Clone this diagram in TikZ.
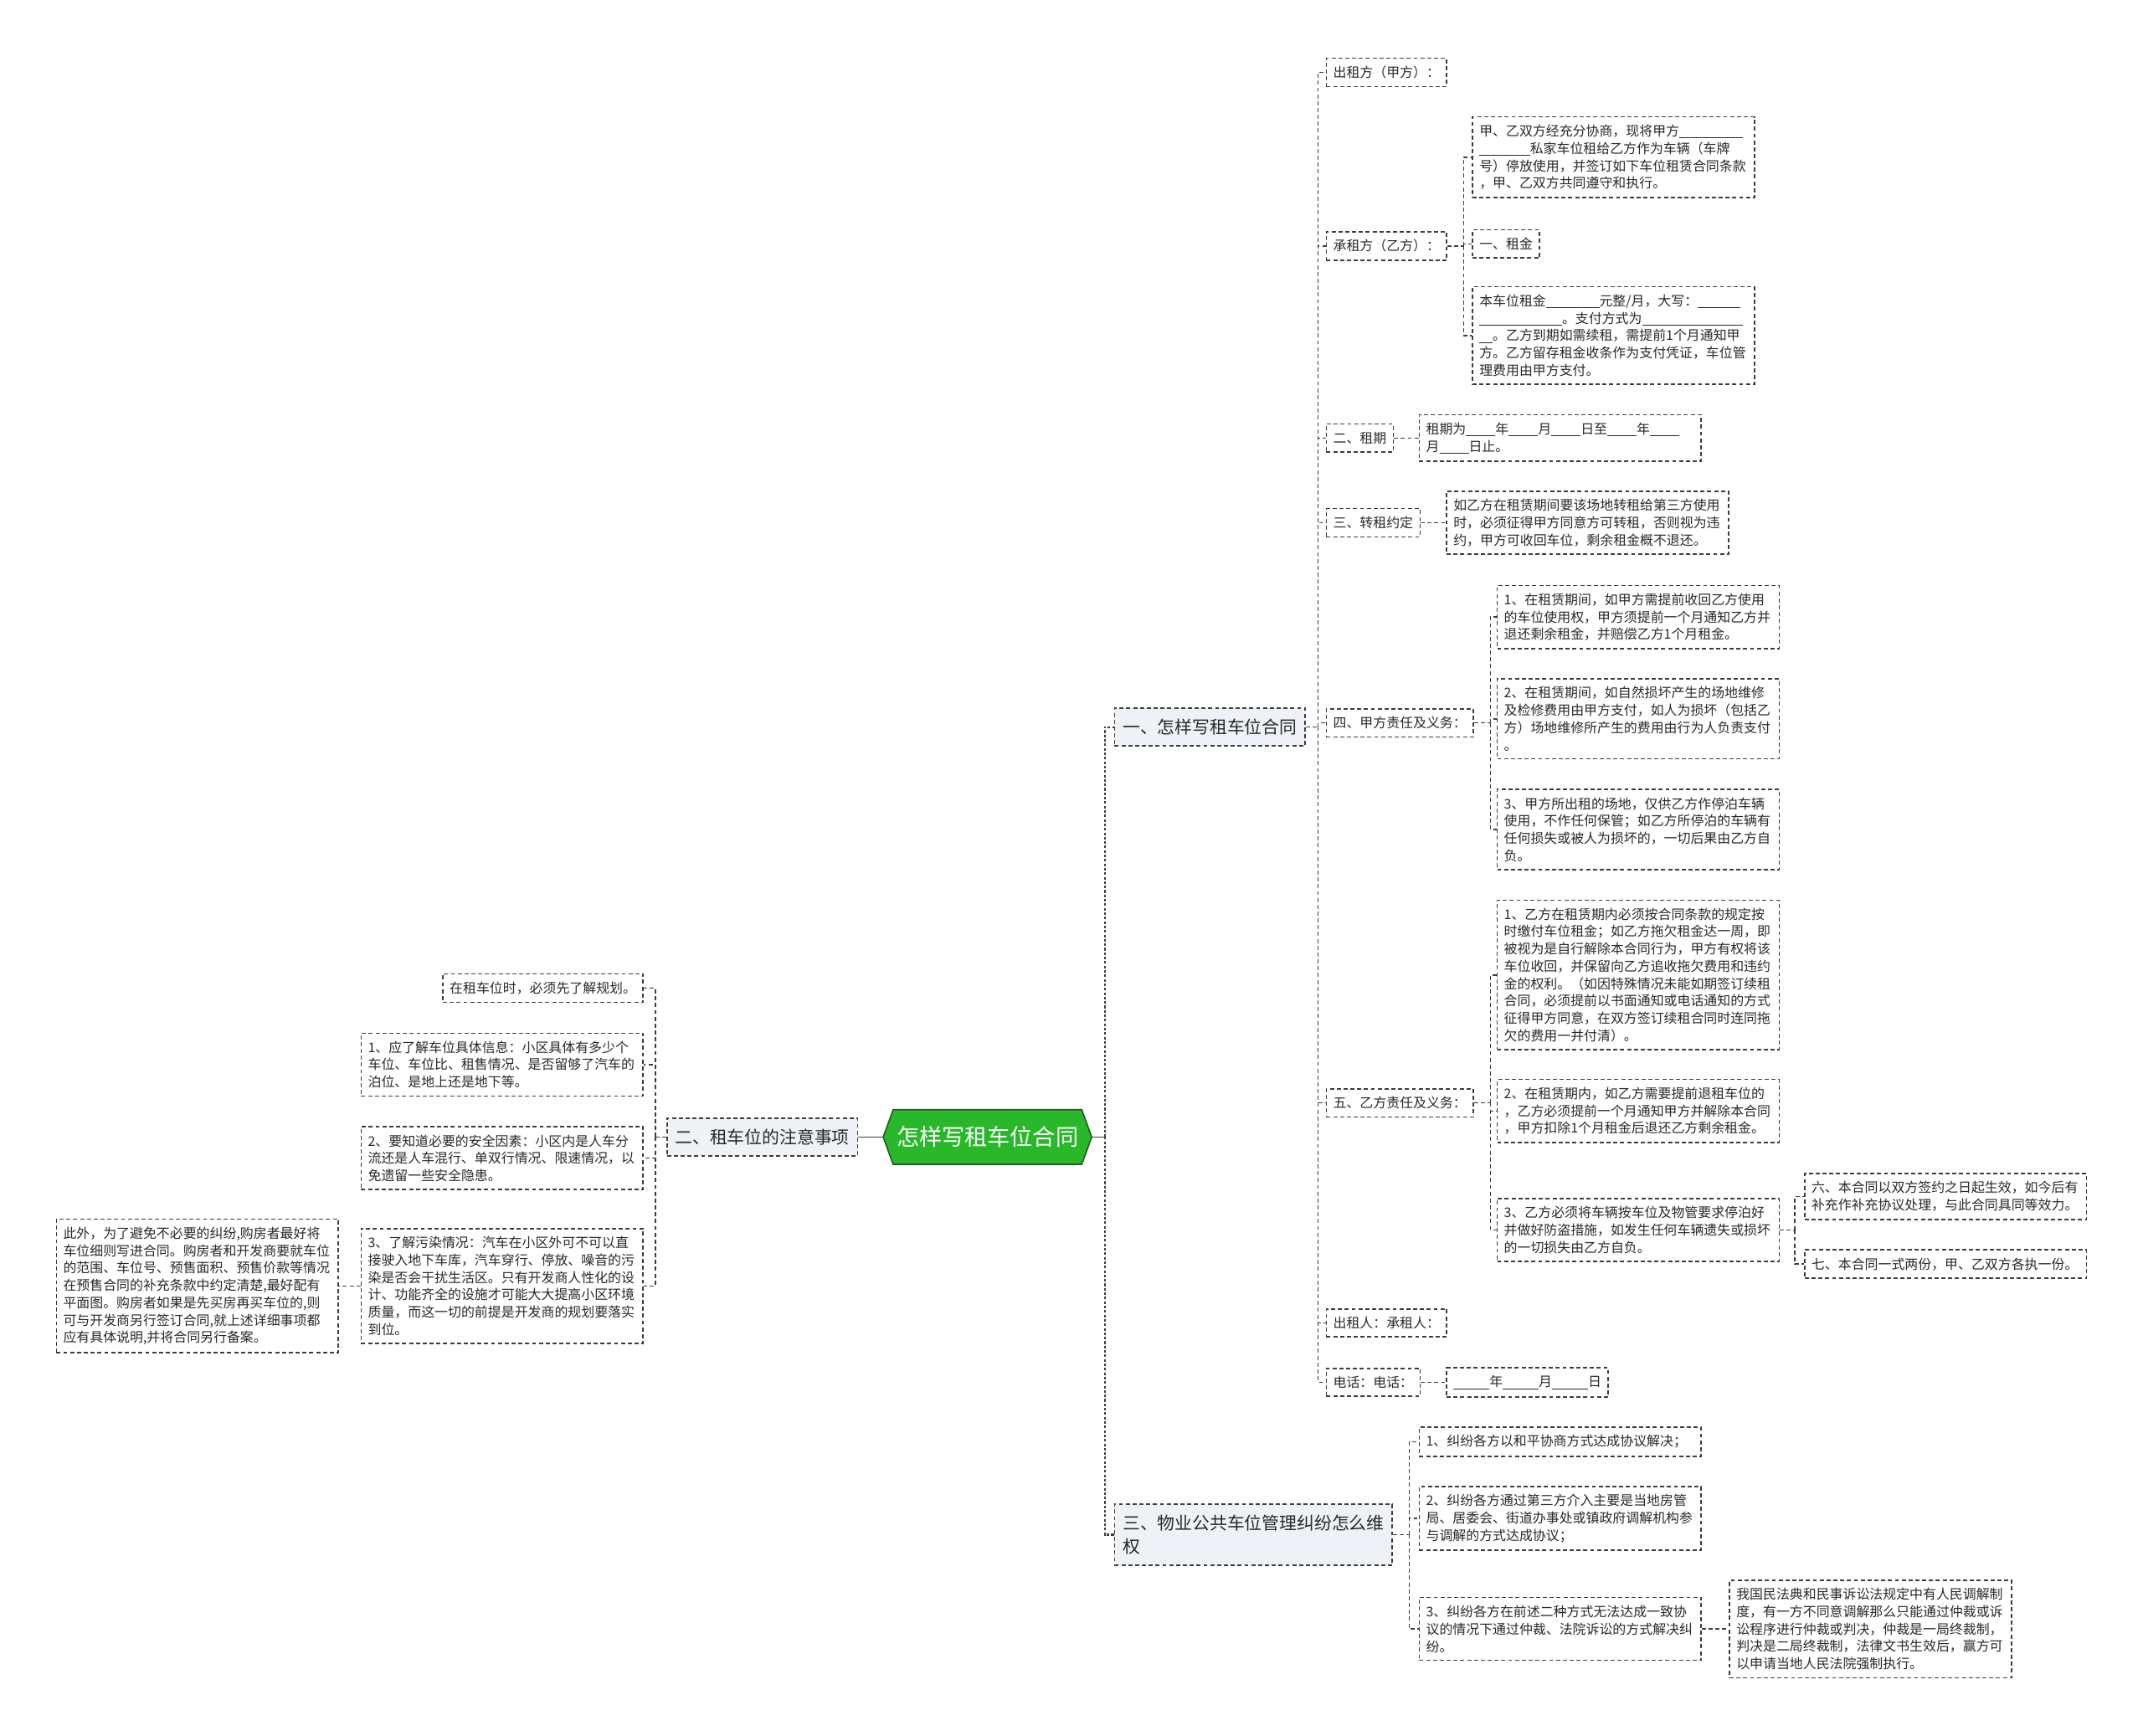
\documentclass[tikz,border=0pt]{standalone}
\usepackage{fontspec}
\setmainfont{Noto Sans CJK SC}
\definecolor{mmgreen}{RGB}{40,184,42}
\definecolor{mmgreendark}{RGB}{34,92,36}
\definecolor{mmgray}{RGB}{238,241,245}
\definecolor{mmline}{RGB}{60,60,60}
\definecolor{mmtext}{RGB}{40,40,40}
\usetikzlibrary{shapes.symbols,positioning}
\newcommand{\fillin}[1]{\rule[-1.3pt]{#1}{0.45pt}}

\begin{document}
\begin{tikzpicture}[x=0.8pt, y=-0.8pt,
    rootbox/.style={signal, signal to=east and west, signal pointer angle=140,
                    draw=mmgreendark, fill=mmgreen, line width=0.8pt, text=white,
                    minimum width=119pt, minimum height=32pt, inner xsep=2pt,
                    font=\fontsize{13.3}{16}\selectfont},
    topicbox/.style={rectangle, draw=mmline, fill=mmgray, line width=0.8pt,
                     dash pattern=on 2.4pt off 1.6pt, align=left, text=mmtext,
                     inner xsep=4.8pt, inner ysep=6.3pt,
                     font=\fontsize{10.2}{13.6}\selectfont},
    itembox/.style={rectangle, draw=mmline, fill=white, line width=0.75pt,
                    dash pattern=on 2.4pt off 1.6pt, align=left, text=mmtext,
                    inner xsep=4pt, inner ysep=4.6pt,
                    font=\fontsize{7.8}{10.16}\selectfont},
    wide/.style={itembox, text width=157pt},
    trunk/.style={draw=mmline, line width=0.8pt},
    spine/.style={draw=mmline, line width=1pt, dash pattern=on 1.5pt off 1.1pt},
    link/.style={draw=mmline, line width=0.75pt, dash pattern=on 2.4pt off 1.6pt}
  ]
  \useasboundingbox[fill=white] (0,0) rectangle (1568,1270);

  % centre and main topics
  \node[rootbox] (root) at (722.5,832) {怎样写租车位合同};
  \node[topicbox, anchor=west] (n1) at (815,532) {一、怎样写租车位合同};
  \node[topicbox, anchor=west] (n3) at (815,1123) {三、物业公共车位管理纠纷怎么维\\权};
  \node[topicbox, anchor=east] (n2) at (628,832) {二、租车位的注意事项};

  % contract items
  \node[itembox, anchor=west] (a1) at (970,53) {出租方（甲方）：};
  \node[itembox, anchor=west] (a2) at (970,180) {承租方（乙方）：};
  \node[itembox, anchor=west] (a3) at (970,320.5) {二、租期};
  \node[itembox, anchor=west] (a4) at (970,382.5) {三、转租约定};
  \node[itembox, anchor=west] (a5) at (970,529) {四、甲方责任及义务：};
  \node[itembox, anchor=west] (a6) at (970,807) {五、乙方责任及义务：};
  \node[itembox, anchor=west] (a7) at (970,968) {出租人：承租人：};
  \node[itembox, anchor=west] (a8) at (970,1011.5) {电话：电话：};

  \node[wide, anchor=west] (b1) at (1077,115) {甲、乙双方经充分协商，现将甲方\fillin{4.8em}\\
    \fillin{3.8em}私家车位租给乙方作为车辆（车牌\\
    号）停放使用，并签订如下车位租赁合同条款\\
    ，甲、乙双方共同遵守和执行。};
  \node[itembox, anchor=west] (b2) at (1077,178.5) {一、租金};
  \node[wide, anchor=west] (b3) at (1077,245.5) {本车位租金\fillin{4em}元整/月，大写：\fillin{3.2em}\\
    \fillin{6.2em}。支付方式为\fillin{7.6em}\\
    \fillin{1em}。乙方到期如需续租，需提前1个月通知甲\\
    方。乙方留存租金收条作为支付凭证，车位管\\
    理费用由甲方支付。};
  \node[wide, anchor=west] (c1) at (1038,320.5) {租期为\fillin{2.2em}年\fillin{2.2em}月\fillin{2.2em}日至\fillin{2.2em}年\fillin{2.2em}\\
    月\fillin{2.2em}日止。};
  \node[wide, anchor=west] (c2) at (1058,382.5) {如乙方在租赁期间要该场地转租给第三方使用\\
    时，必须征得甲方同意方可转租，否则视为违\\
    约，甲方可收回车位，剩余租金概不退还。};

  \node[wide, anchor=west] (d1) at (1095,451.5) {1、在租赁期间，如甲方需提前收回乙方使用\\
    的车位使用权，甲方须提前一个月通知乙方并\\
    退还剩余租金，并赔偿乙方1个月租金。};
  \node[wide, anchor=west] (d2) at (1095,526) {2、在租赁期间，如自然损坏产生的场地维修\\
    及检修费用由甲方支付，如人为损坏（包括乙\\
    方）场地维修所产生的费用由行为人负责支付\\
    。};
  \node[wide, anchor=west] (d3) at (1095,607) {3、甲方所出租的场地，仅供乙方作停泊车辆\\
    使用，不作任何保管；如乙方所停泊的车辆有\\
    任何损失或被人为损坏的，一切后果由乙方自\\
    负。};

  \node[wide, anchor=west] (e1) at (1095,713.4) {1、乙方在租赁期内必须按合同条款的规定按\\
    时缴付车位租金；如乙方拖欠租金达一周，即\\
    被视为是自行解除本合同行为，甲方有权将该\\
    车位收回，并保留向乙方追收拖欠费用和违约\\
    金的权利。（如因特殊情况未能如期签订续租\\
    合同，必须提前以书面通知或电话通知的方式\\
    征得甲方同意，在双方签订续租合同时连同拖\\
    欠的费用一并付清）。};
  \node[wide, anchor=west] (e2) at (1095,813) {2、在租赁期内，如乙方需要提前退租车位的\\
    ，乙方必须提前一个月通知甲方并解除本合同\\
    ，甲方扣除1个月租金后退还乙方剩余租金。};
  \node[wide, anchor=west] (e3) at (1095,900) {3、乙方必须将车辆按车位及物管要求停泊好\\
    并做好防盗措施，如发生任何车辆遗失或损坏\\
    的一切损失由乙方自负。};
  \node[wide, anchor=west] (f1) at (1320,875.5) {六、本合同以双方签约之日起生效，如今后有\\
    补充作补充协议处理，与此合同具同等效力。};
  \node[wide, anchor=west] (f2) at (1320,925) {七、本合同一式两份，甲、乙双方各执一份。};
  \node[itembox, anchor=west] (g1) at (1058,1011.5) {\fillin{2.7em}年\fillin{2.7em}月\fillin{2.7em}日};

  % disputes
  \node[wide, anchor=west] (h1) at (1038,1055) {1、纠纷各方以和平协商方式达成协议解决；};
  \node[wide, anchor=west] (h2) at (1038,1111) {2、纠纷各方通过第三方介入主要是当地房管\\
    局、居委会、街道办事处或镇政府调解机构参\\
    与调解的方式达成协议；};
  \node[wide, anchor=west] (h3) at (1038,1192) {3、纠纷各方在前述二种方式无法达成一致协\\
    议的情况下通过仲裁、法院诉讼的方式解决纠\\
    纷。};
  \node[wide, anchor=west] (i1) at (1265,1192) {我国民法典和民事诉讼法规定中有人民调解制\\
    度，有一方不同意调解那么只能通过仲裁或诉\\
    讼程序进行仲裁或判决，仲裁是一局终裁制，\\
    判决是二局终裁制，法律文书生效后，赢方可\\
    以申请当地人民法院强制执行。};

  % notes (left side)
  \node[itembox, anchor=east] (j0) at (471,723) {在租车位时，必须先了解规划。};
  \node[wide, anchor=east] (j1) at (471,779) {1、应了解车位具体信息：小区具体有多少个\\
    车位、车位比、租售情况、是否留够了汽车的\\
    泊位、是地上还是地下等。};
  \node[wide, anchor=east] (j2) at (471,847.5) {2、要知道必要的安全因素：小区内是人车分\\
    流还是人车混行、单双行情况、限速情况，以\\
    免遗留一些安全隐患。};
  \node[wide, anchor=east] (j3) at (471,941) {3、了解污染情况：汽车在小区外可不可以直\\
    接驶入地下车库，汽车穿行、停放、噪音的污\\
    染是否会干扰生活区。只有开发商人性化的设\\
    计、功能齐全的设施才可能大大提高小区环境\\
    质量，而这一切的前提是开发商的规划要落实\\
    到位。};
  \node[wide, anchor=east] (k1) at (248,941) {此外，为了避免不必要的纠纷,购房者最好将\\
    车位细则写进合同。购房者和开发商要就车位\\
    的范围、车位号、预售面积、预售价款等情况\\
    在预售合同的补充条款中约定清楚,最好配有\\
    平面图。购房者如果是先买房再买车位的,则\\
    可与开发商另行签订合同,就上述详细事项都\\
    应有具体说明,并将合同另行备案。};

  % connectors
  \draw[trunk] (root.east) -- ++(9,0) coordinate (hub);
  \draw[spine] (hub) |- (n1.west);
  \draw[spine] (hub) |- (n3.west);
  \draw[trunk] (root.west) -- (n2.east);

  \draw[link] (n1.east) -- ++(9,0) coordinate (hub1);
  \foreach \k in {a1,a2,a3,a4,a5,a6,a7,a8}
    \draw[link] (hub1) |- (\k.west);
  \draw[link] (a2.east) -- ++(12,0) coordinate (hub2);
  \foreach \k in {b1,b2,b3}
    \draw[link] (hub2) |- (\k.west);
  \draw[link] (a3.east) -- (c1.west);
  \draw[link] (a4.east) -- (c2.west);
  \draw[link] (a5.east) -- ++(12,0) coordinate (hub5);
  \foreach \k in {d1,d2,d3}
    \draw[link] (hub5) |- (\k.west);
  \draw[link] (a6.east) -- ++(12,0) coordinate (hub6);
  \foreach \k in {e1,e2,e3}
    \draw[link] (hub6) |- (\k.west);
  \draw[link] (e3.east) -- ++(11,0) coordinate (hub7);
  \foreach \k in {f1,f2}
    \draw[link] (hub7) |- (\k.west);
  \draw[link] (a8.east) -- (g1.west);

  \draw[link] (n3.east) -- ++(12,0) coordinate (hub3);
  \foreach \k in {h1,h2,h3}
    \draw[link] (hub3) |- (\k.west);
  \draw[link] (h3.east) -- (i1.west);

  \draw[link] (n2.west) -- ++(-8,0) coordinate (hub4);
  \foreach \k in {j0,j1,j2,j3}
    \draw[link] (hub4) |- (\k.east);
  \draw[link] (j3.west) -- (k1.east);
\end{tikzpicture}
\end{document}
